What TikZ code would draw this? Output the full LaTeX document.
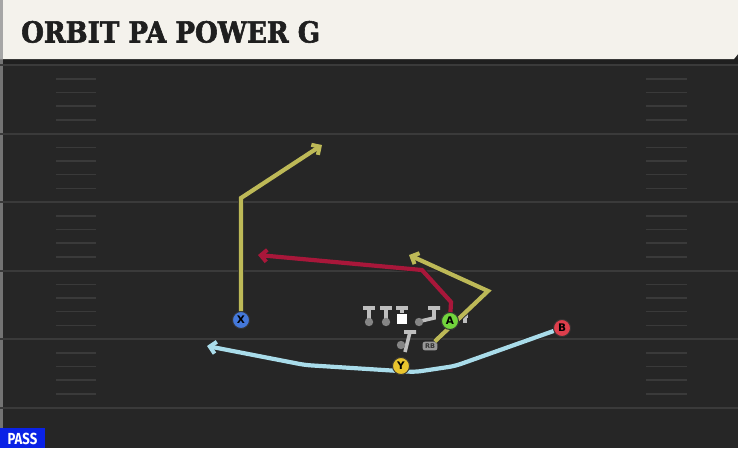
\documentclass[tikz,border=0pt]{standalone}
\usepackage{fontspec}
\usetikzlibrary{arrows.meta}
\newfontfamily\titlefont[FakeStretch=0.9,FakeBold=2]{DejaVu Serif}
\newfontfamily\labelfont{DejaVu Sans}
\newfontfamily\passfont[FakeStretch=0.82]{Fira Sans}
\definecolor{fieldbg}{HTML}{262626}
\definecolor{yardline}{HTML}{3A3A3A}
\definecolor{header}{HTML}{F4F2EC}
\definecolor{olive}{HTML}{BDB957}
\definecolor{crimson}{HTML}{A8173A}
\definecolor{sky}{HTML}{A9DCEA}
\definecolor{xblue}{HTML}{4478DA}
\definecolor{ygold}{HTML}{E9C52E}
\definecolor{agreen}{HTML}{72D43C}
\definecolor{bred}{HTML}{DD3E4C}
\definecolor{lineman}{HTML}{BEBEBE}
\definecolor{passblue}{HTML}{0A22E6}
\tikzset{
  player/.style={circle,draw=black!80,line width=0.9pt,inner sep=0pt,minimum size=17pt,font=\labelfont\bfseries\fontsize{10.5}{10.5}\selectfont},
  route/.style={line width=4.2pt,line join=miter,preaction={draw=black!85,line width=6pt}},
  tip/.style={-{Straight Barb[length=6pt,width=12pt,line width=4pt]}},
  lman/.style={draw=lineman,line width=3.6pt},
  hash/.style={draw=yardline,line width=1.6pt}
}
\begin{document}
\begin{tikzpicture}[x=1pt,y=-1pt]
  \useasboundingbox (0,0) rectangle (738,448);
  \fill[fieldbg] (0,0) rectangle (738,448);
  \fill[black!88] (0,58) rectangle (738,64);
  \fill[black!55] (0,0) rectangle (3,448);
  \foreach \yl in {65,133.5,202,270.5,339,407.5}
    \draw[yardline,line width=2pt] (0,\yl) -- (738,\yl);
  \foreach \yl in {65,133.5,202,270.5,339} {
    \foreach \dy in {14,27.5,41,55} {
      \draw[hash] (56,\yl+\dy) -- (96,\yl+\dy);
      \draw[hash] (646,\yl+\dy) -- (687,\yl+\dy);
    }
  }
  \fill[header] (0,0) -- (738,0) -- (738,54) -- (734,59) -- (0,59) -- cycle;
  \fill[black!35] (0,0) rectangle (3,59);
  \node[anchor=base west,inner sep=0pt,text=black!88,font=\titlefont\bfseries\fontsize{29}{29}\selectfont] (title) at (21,42.5) {ORBIT PA POWER G};
  \fill[passblue] (0,428) rectangle (45,448);
  \node[text=white,inner sep=0pt,font=\passfont\bfseries\fontsize{16}{16}\selectfont] (pass) at (22.5,439) {PASS};

  \draw[lman] (363,308) -- (375,308) (369,308) -- (369,320);
  \fill[lineman!70!black] (369,322) circle (4.2pt);
  \draw[lman] (380,308) -- (392,308) (386,308) -- (386,320);
  \fill[lineman!70!black] (386,322) circle (4.2pt);
  \draw[lman] (396,308) -- (408,308) (402,308) -- (402,313);
  \fill[white] (397,314) rectangle (407,324);
  \draw[lman] (428,308) -- (440,308) (434,308) -- (434,318) -- (421,321);
  \fill[lineman!70!black] (419,322) circle (4.2pt);
  \draw[lman] (459,316) -- (468,316) (465,316) -- (465,323);
  \draw[lman] (404,332) -- (416,332) (410,332) -- (405,352);
  \fill[lineman!70!black] (401,345) circle (4.2pt);

  \node[player,fill=xblue] (X) at (241,320) {X};
  \node[player,fill=ygold] (Y) at (401,366) {Y};
  \node[player,fill=agreen] (A) at (450,321) {A};
  \node[player,fill=bred] (B) at (562,328) {B};
  \node[fill=lineman!80!black,rounded corners=2.5pt,inner xsep=2.5pt,inner ysep=2pt,text=black!80,font=\labelfont\bfseries\fontsize{6.5}{6.5}\selectfont] (RB) at (430,346) {RB};

  \coordinate (x1) at (241,198);
  \coordinate (x2) at (322,145);
  \coordinate (a1) at (451,302);
  \coordinate (a2) at (422,270);
  \coordinate (a3) at (258,255);
  \coordinate (r1) at (488,291);
  \coordinate (r2) at (409,255);
  \coordinate (b1) at (455,366);
  \coordinate (b2) at (415,372);
  \coordinate (b3) at (305,365);
  \coordinate (b4) at (207,346);

  \draw[route,olive,tip] (X) -- (x1) -- (x2);
  \draw[route,crimson,tip] (A) -- (a1) -- (a2) -- (a3);
  \draw[route,olive,tip] (RB) -- (r1) -- (r2);
  \draw[route,sky,tip,rounded corners=6pt] (B) -- (b1) -- (b2) -- (b3) -- (b4);
  \node[player,fill=agreen] (A2) at (A) {A};
  \node[player,fill=ygold] (Y2) at (Y) {Y};
\end{tikzpicture}
\end{document}
